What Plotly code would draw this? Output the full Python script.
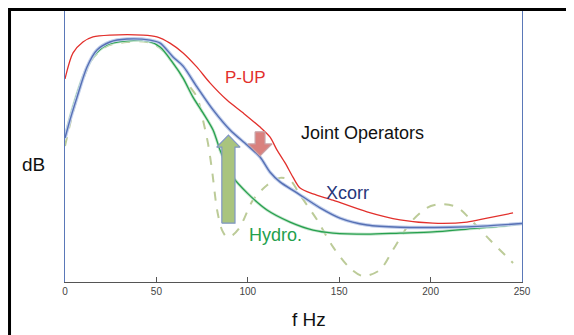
import plotly.graph_objects as go

# ---------------- data (frequency in Hz, level in dB) ----------------
pup_hz = [0, 4.4, 9.8, 15.3, 24.6, 42.7, 50.3, 57.4, 64.6, 72.2, 79.3, 88.6, 97.4,
          106.7, 112.1, 116.0, 120.4, 124.7, 128.6, 135.7, 146.6, 165.2, 183.3,
          201.3, 219.9, 230.9, 245.1]
pup_db = [-19.4, -12.3, -9.3, -7.9, -7.4, -7.4, -7.9, -9.6, -12.3, -16.2, -20.5, -25.2,
          -28.7, -32.6, -35.3, -38.9, -42.4, -46.3, -49.3, -50.9, -52.6, -55.8, -58.0,
          -58.9, -58.6, -57.5, -56.1]

xcorr_hz = [0, 2.7, 6.6, 12.0, 17.5, 24.6, 33.9, 46.5, 52.0, 59.1, 64.6, 72.2, 81.0,
            90.3, 99.6, 106.7, 112.1, 117.6, 126.9, 139.5, 150.4, 165.2, 183.3, 210.6,
            228.7, 250]
xcorr_db = [-35.6, -30.7, -24.4, -16.2, -11.5, -9.3, -8.5, -8.8, -9.6, -13.4, -15.9,
            -21.6, -27.9, -33.4, -37.5, -40.8, -44.9, -47.6, -50.6, -54.7, -57.5, -59.4,
            -60.0, -60.0, -59.7, -59.0]

hydro_hz = [0, 4.4, 9.8, 15.3, 23.0, 33.9, 44.9, 52.0, 59.1, 64.6, 70.0, 75.5, 81.0,
            84.8, 86.4, 91.9, 99.6, 110.5, 123.1, 135.7, 146.6, 165.2, 183.3, 201.3,
            219.9, 238.0, 250]
hydro_db = [-35.3, -27.1, -18.9, -13.4, -10.1, -9.0, -9.0, -10.7, -15.1, -19.2, -24.4,
            -28.7, -33.4, -38.9, -40.8, -46.3, -50.6, -55.3, -58.6, -60.8, -61.6, -61.9,
            -61.6, -61.3, -60.5, -59.7, -59.0]

single_hz = [0, 4.4, 9.8, 15.3, 23.0, 33.9, 44.9, 52.0, 59.1, 64.6, 72.2, 75.5, 78.2,
             80.4, 83.2, 85.9, 88.6, 91.9, 95.7, 102.8, 110.5, 117.6, 123.1, 128.6,
             137.9, 146.6, 155.9, 163.0, 172.3, 179.4, 188.7, 198.0, 205.1, 214.4,
             223.2, 232.5, 245.1]
single_db = [-37.8, -28.5, -19.7, -13.7, -10.4, -9.3, -9.3, -11.0, -15.1, -19.2, -24.4,
             -30.7, -37.0, -44.3, -55.3, -60.8, -62.7, -62.1, -60.0, -52.6, -48.5, -46.5,
             -47.1, -51.2, -58.0, -65.4, -71.2, -73.4, -71.7, -66.2, -58.9, -54.7, -53.7,
             -54.5, -58.6, -63.5, -69.8]

x_ticks = [0, 50, 100, 150, 200, 250]

# arrows: (centre Hz, tail dB, head-base dB, tip dB, shaft half-width Hz, head half-width Hz)
up_arrow = (89.4, -58.9, -38.1, -34.8, 3.6, 6.4)
down_arrow = (106.7, -33.9, -37.2, -40.5, 2.7, 6.6)

FONT = "Liberation Sans, Arial, sans-serif"


def arrow_polygon(a):
    c, tail, base, tip, sw, hw = a
    xs = [c - sw, c - sw, c - hw, c, c + hw, c + sw, c + sw, c - sw]
    ys = [tail, base, base, tip, base, base, tail, tail]
    return xs, ys


fig = go.Figure()

# dashed single-sensor curve
fig.add_trace(go.Scatter(x=single_hz, y=single_db, mode="lines",
                         line=dict(color="#bccb98", width=2, dash="dash", shape="spline",
                                   smoothing=0.8),
                         hoverinfo="skip", showlegend=False))
# hydro
fig.add_trace(go.Scatter(x=hydro_hz, y=hydro_db, mode="lines",
                         line=dict(color="#c4e4cc", width=3, shape="spline", smoothing=0.8),
                         hoverinfo="skip", showlegend=False))
fig.add_trace(go.Scatter(x=hydro_hz, y=hydro_db, mode="lines",
                         line=dict(color="#26a04e", width=1.3, shape="spline", smoothing=0.8),
                         hoverinfo="skip", showlegend=False))
# xcorr
fig.add_trace(go.Scatter(x=xcorr_hz, y=xcorr_db, mode="lines",
                         line=dict(color="#c2cfec", width=3.5, shape="spline", smoothing=0.8),
                         hoverinfo="skip", showlegend=False))
fig.add_trace(go.Scatter(x=xcorr_hz, y=xcorr_db, mode="lines",
                         line=dict(color="#5670b4", width=1.4, shape="spline", smoothing=0.8),
                         hoverinfo="skip", showlegend=False))
# P-UP
fig.add_trace(go.Scatter(x=pup_hz, y=pup_db, mode="lines",
                         line=dict(color="#e2302c", width=1.3, shape="spline", smoothing=0.8),
                         hoverinfo="skip", showlegend=False))

# arrows
ux, uy = arrow_polygon(up_arrow)
fig.add_trace(go.Scatter(x=ux, y=uy, mode="lines", fill="toself", fillcolor="#a9c47e",
                         line=dict(color="#7f96c4", width=1.2),
                         hoverinfo="skip", showlegend=False))
dx, dy = arrow_polygon(down_arrow)
fig.add_trace(go.Scatter(x=dx, y=dy, mode="lines", fill="toself", fillcolor="#d9817e",
                         line=dict(color="#c9a2a6", width=1.2),
                         hoverinfo="skip", showlegend=False))

# curve labels
def label(x, y, text, size, color, ref=None):
    kw = dict(xref="paper", yref="paper") if ref == "paper" else {}
    fig.add_annotation(x=x, y=y, text=text, showarrow=False, xanchor="center",
                       yanchor="middle", font=dict(family=FONT, size=size, color=color),
                       **kw)


label(99, -18.9, "P-UP", 17, "#e2302c")
label(162.7, -34.2, "Joint Operators", 18, "#111111")
label(154.8, -50.6, "Xcorr", 18, "#27367a")
label(114.9, -62.1, "Hydro.", 18, "#24a04e")

# axis titles placed as free text
label(-0.068, 0.432, "dB", 19, "#111111", ref="paper")
label(0.534, -0.140, "f Hz", 19, "#111111", ref="paper")

# black frame (top and left)
fig.add_shape(type="line", xref="paper", yref="paper", x0=-0.1214, x1=1.2, y0=1.0055,
              y1=1.0055, line=dict(color="black", width=3))
fig.add_shape(type="line", xref="paper", yref="paper", x0=-0.1214, x1=-0.1214, y0=1.0111,
              y1=-0.25, line=dict(color="black", width=3))

fig.update_xaxes(range=[0, 250], tickvals=x_ticks, ticktext=[str(t) for t in x_ticks],
                 ticks="inside", ticklen=5, tickcolor="#555555", tickwidth=1,
                 showline=True, linecolor="#555555", linewidth=1.2, mirror=False,
                 showgrid=False, zeroline=False,
                 tickfont=dict(family=FONT, size=10, color="#444444"))
fig.update_yaxes(range=[-75, -0.82], showticklabels=False, ticks="", showline=True,
                 linecolor="#5a78b8", linewidth=1, mirror=True, showgrid=False,
                 zeroline=False)

fig.update_layout(width=566, height=327, margin=dict(l=57, r=52, t=3, b=53),
                  plot_bgcolor="white", paper_bgcolor="white", showlegend=False)

fig.write_html("out.html")
